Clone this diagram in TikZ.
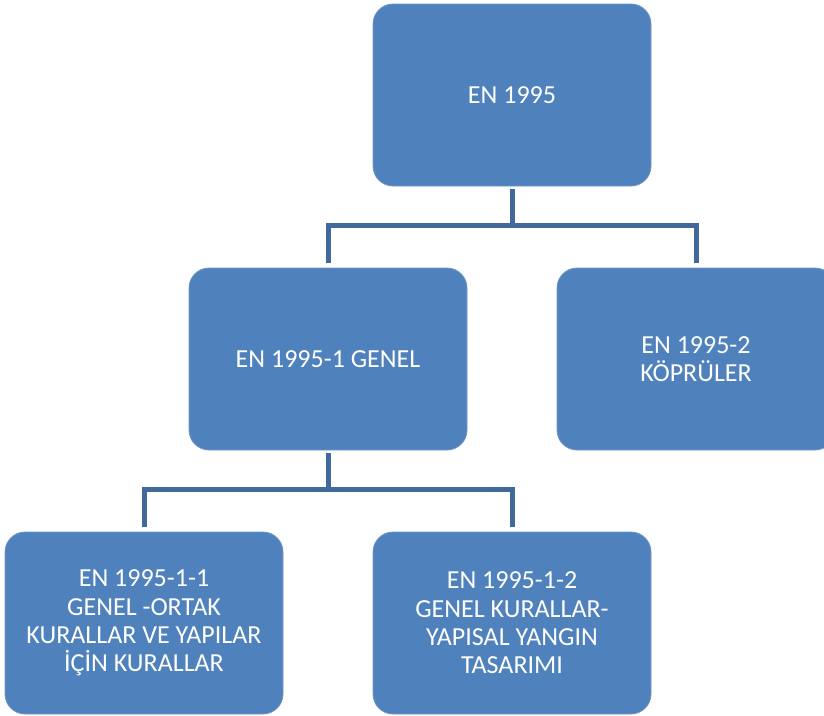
\documentclass[tikz,border=0pt]{standalone}
\usepackage{fontspec}
\setmainfont{Carlito}
\usepackage{tikz}
\definecolor{boxblue}{HTML}{4F81BD}
\definecolor{boxedge}{HTML}{7097C8}
\definecolor{linkblue}{HTML}{41699B}
\def\Link#1#2{\draw [link] (#1.south) -- ++(0,39) -| (#2.north);}

\begin{document}
\begin{tikzpicture}[x=1pt,y=-1pt,
  box/.style={draw=boxedge,line width=0.8pt,fill=boxblue,rounded corners=20pt,
    minimum width=278pt,minimum height=182pt,inner sep=0pt,text=white,align=center,
    font=\fontsize{26}{28.4}\selectfont},
  link/.style={draw=linkblue,line width=5pt,shorten <=3pt,shorten >=5pt}]
\clip (0,0) rectangle (824,715);
\useasboundingbox (0,0) rectangle (824,715);
\node[box] (en) at (512,95) {EN 1995};
\node[box] (gen) at (328,359) {EN 1995-1 GENEL};
\node[box] (kop) at (696,359) {EN 1995-2\\K\"OPR\"ULER};
\node[box] (ort) at (144,623) {EN 1995-1-1\\GENEL -ORTAK\\KURALLAR VE YAPILAR\\\.{I}\c{C}\.{I}N KURALLAR};
\node[box] (yan) at (512,623) {EN 1995-1-2\\GENEL KURALLAR-\\YAPISAL YANGIN\\TASARIMI};
\Link{en}{gen} \Link{en}{kop}
\Link{gen}{ort} \Link{gen}{yan}
\end{tikzpicture}
\end{document}
